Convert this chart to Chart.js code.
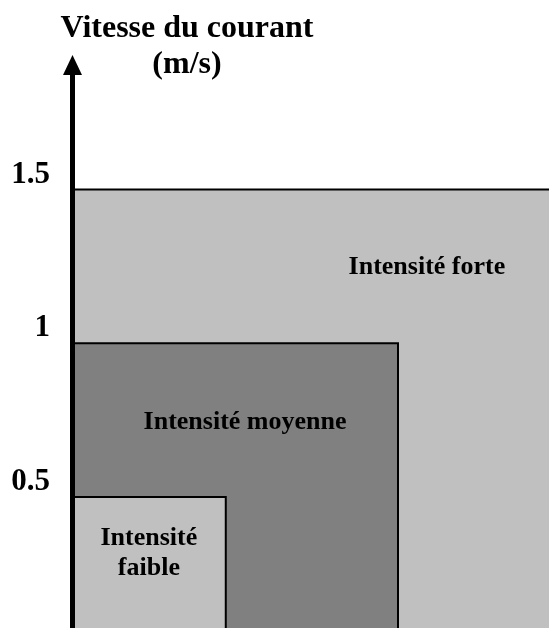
<!DOCTYPE html>
<html>
<head>
<meta charset="utf-8">
<script src="https://cdn.jsdelivr.net/npm/chart.js@4.4.1/dist/chart.umd.min.js"></script>
<style>
    html, body { margin: 0; padding: 0; background: #fff; }
    #wrap { width: 549px; height: 628px; }
</style>
</head>
<body>
<div id="wrap"><canvas id="chart"></canvas></div>
<script>
// Data
const levels = ['Intensité faible', 'Intensité moyenne', 'Intensité forte'];
const speedLimits = [0.5, 1, 1.5];      // m/s, top of each zone
const zoneWidths = [0.5, 1.06, 1.6];    // extent along the horizontal
const yTicks = [0.5, 1, 1.5];
const yLabels = ['0.5', '1', '1.5'];

const yMin = 0.074;
const yMax = 1.8756;
const xMax = 1.551;

const zoneColors = ['#c0c0c0', '#808080', '#c0c0c0'];
const serif = '"Liberation Serif", "Times New Roman", serif';

// Build one filled step line per zone
const datasets = levels.map((name, i) => ({
    label: name,
    data: [
        { x: 0, y: speedLimits[i] },
        { x: zoneWidths[i], y: speedLimits[i] },
        { x: zoneWidths[i], y: yMin }
    ],
    borderColor: '#000',
    borderWidth: 2,
    backgroundColor: zoneColors[i],
    fill: 'start',
    pointRadius: 0,
    tension: 0,
    order: i
}));

// Zone labels and title, arrow head on the axis
const decorPlugin = {
    id: 'decor',
    afterDraw(chart) {
        const ctx = chart.ctx;
        const xs = chart.scales.x;
        const ys = chart.scales.y;
        const area = chart.chartArea;

        // arrow head
        const ax = area.left + 0.5;
        ctx.save();
        ctx.fillStyle = '#000';
        ctx.beginPath();
        ctx.moveTo(ax - 9.5, area.top + 1);
        ctx.lineTo(ax + 9.5, area.top + 1);
        ctx.lineTo(ax, area.top - 19);
        ctx.closePath();
        ctx.fill();

        // titre de l'axe
        ctx.font = 'bold 32px ' + serif;
        ctx.textAlign = 'center';
        ctx.textBaseline = 'alphabetic';
        ctx.fillText('Vitesse du courant', 187, 37);
        ctx.fillText('(m/s)', 187, 73);

        // zone labels
        ctx.font = 'bold 26px ' + serif;
        const spots = [
            { x: 0.25, y: 0.344, lines: ['Intensité', 'faible'] },
            { x: 0.5626, y: 0.721, lines: [levels[1]] },
            { x: 1.154, y: 1.225, lines: [levels[2]] }
        ];
        spots.forEach(s => {
            const px = xs.getPixelForValue(s.x);
            const py = ys.getPixelForValue(s.y);
            s.lines.forEach((t, k) => ctx.fillText(t, px, py + k * 30));
        });
        ctx.restore();
    }
};

new Chart(document.getElementById('chart'), {
    type: 'line',
    data: { datasets: datasets },
    options: {
        responsive: true,
        maintainAspectRatio: false,
        animation: false,
        events: [],
        layout: { padding: { top: 74, right: 0, bottom: 0, left: 0 } },
        scales: {
            x: {
                type: 'linear',
                min: 0,
                max: xMax,
                display: false
            },
            y: {
                type: 'linear',
                min: yMin,
                max: yMax,
                z: 1,
                afterFit: (s) => {
                    s.width = 72;
                    s.paddingTop = 0;
                    s.paddingBottom = 0;
                },
                afterBuildTicks: (s) => { s.ticks = yTicks.map(v => ({ value: v })); },
                grid: { display: false, drawTicks: false, tickLength: 0 },
                border: { display: true, color: '#000', width: 5, z: 1 },
                ticks: {
                    padding: 22,
                    labelOffset: -15,
                    color: '#000',
                    font: { family: serif, size: 31, weight: 'bold' },
                    callback: (v) => yLabels[yTicks.indexOf(v)]
                }
            }
        },
        plugins: {
            legend: { display: false },
            tooltip: { enabled: false },
            title: { display: false }
        }
    },
    plugins: [decorPlugin]
});
</script>
</body>
</html>
